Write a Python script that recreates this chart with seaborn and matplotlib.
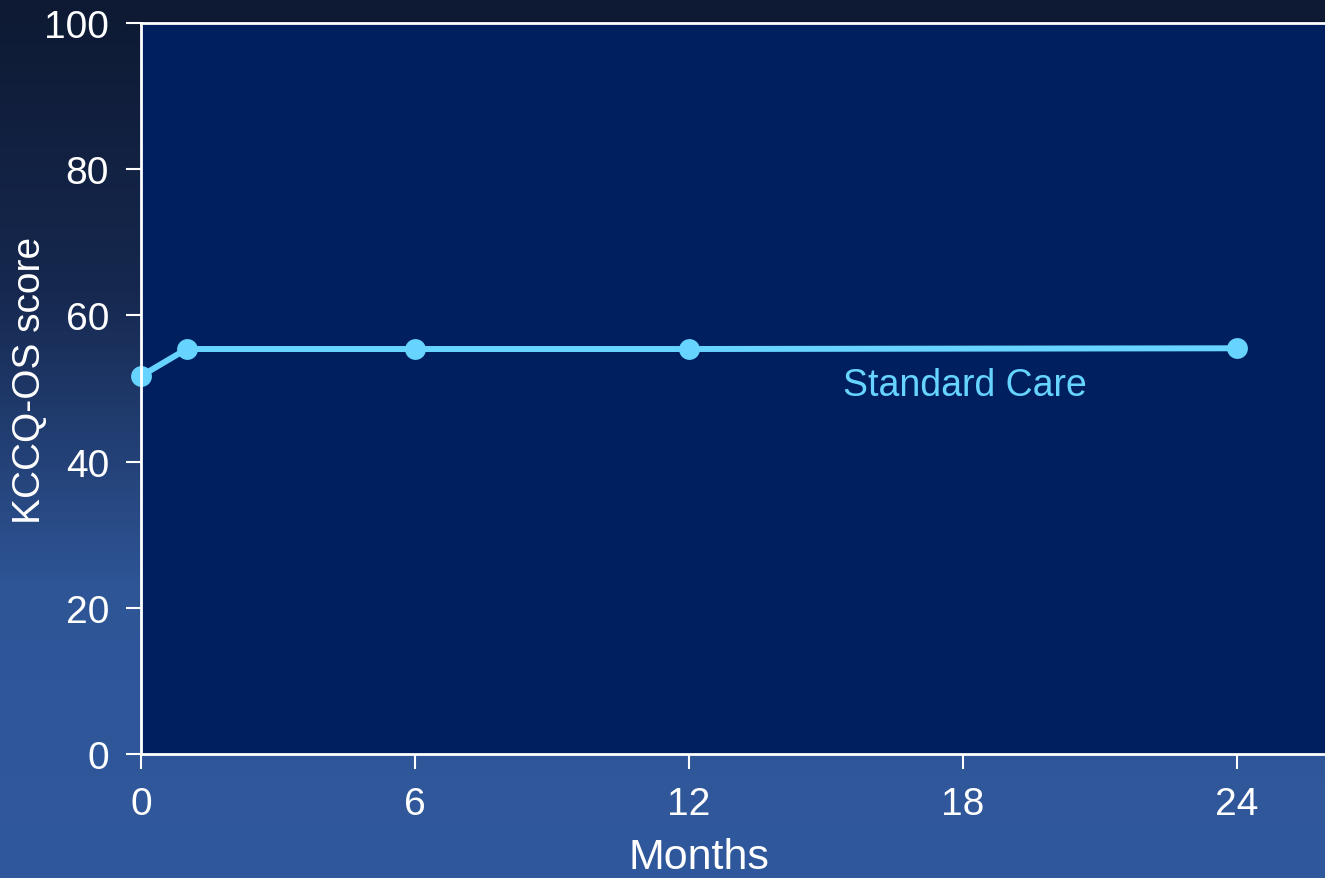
import numpy as np
import matplotlib
matplotlib.use("Agg")
import matplotlib.pyplot as plt
import seaborn as sns
from matplotlib.colors import LinearSegmentedColormap

# data
months = [0, 1, 6, 12, 24]
kccq_score = [51.7, 55.4, 55.4, 55.4, 55.5]
series_label = "Standard Care"
x_ticks = [0, 6, 12, 18, 24]
y_ticks = [0, 20, 40, 60, 80, 100]

sns.set_style("white")
plt.rcParams["font.family"] = ["Liberation Sans", "DejaVu Sans"]

fig = plt.figure(figsize=(13.25, 8.79), dpi=100)

# gradient background of the slide
bg = fig.add_axes([0, 0, 1, 1], zorder=0)
grad = LinearSegmentedColormap.from_list("bg", ["#0e1a33", "#16284f", "#2e5596", "#30589c"])
bg.imshow(np.linspace(0, 1, 256).reshape(-1, 1), aspect="auto", cmap=grad,
          extent=[0, 1, 0, 1], origin="upper")
bg.axis("off")

ax = fig.add_axes([0.1064, 0.1411, 0.8936, 0.8316], zorder=1)
ax.set_facecolor("#001f5e")

line_color = "#66d4ff"
sns.lineplot(x=months, y=kccq_score, ax=ax, color=line_color, linewidth=4.3,
             marker="o", markersize=15, markeredgewidth=0, clip_on=False)

ax.text(15.37, 50.5, series_label, color=line_color, fontsize=27,
        ha="left", va="center")

ax.set_xlim(0, 25.93)
ax.set_ylim(0, 100)
ax.set_xticks(x_ticks)
ax.set_yticks(y_ticks)

for side in ["left", "bottom", "top"]:
    ax.spines[side].set_visible(True)
    ax.spines[side].set_color("white")
    ax.spines[side].set_linewidth(2)
ax.spines["right"].set_visible(False)

ax.tick_params(axis="both", colors="white", labelsize=28, length=11, width=1.5,
               direction="out", left=True, bottom=True)
ax.tick_params(axis="y", pad=12)
ax.tick_params(axis="x", pad=12)

# axis titles placed like on the slide
fig.text(699 / 1325, 1 - 858 / 879, "Months", color="white", fontsize=31,
         ha="center", va="center")
fig.text(30 / 1325, 1 - 380 / 879, "KCCQ-OS score", color="white", fontsize=28,
         ha="center", va="center", rotation=90)

fig.savefig("out.png", dpi=100)
